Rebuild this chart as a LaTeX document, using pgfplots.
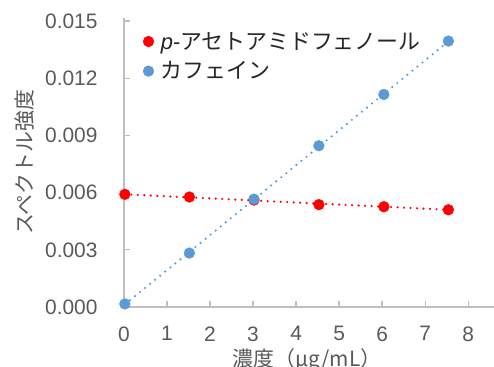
\documentclass[border=0pt]{standalone}
\usepackage{pgfplots}
\pgfplotsset{compat=1.18}
\usepackage{fontspec}
\setmainfont{Liberation Sans}
\newfontfamily\jp{Noto Sans CJK JP}
\definecolor{axgray}{HTML}{BFBFBF}
\definecolor{txtgray}{HTML}{595959}
\definecolor{xred}{HTML}{FF0000}
\definecolor{xblue}{HTML}{5B9BD5}
\begin{document}
\begin{tikzpicture}
\clip (-124bp,-60bp) rectangle (370bp,307bp);
\begin{axis}[
  scale only axis, width=370bp, height=289bp,
  at={(0,0)}, anchor=south west,
  xmin=0, xmax=8.6, ymin=0, ymax=0.01516,
  axis x line*=bottom, axis y line*=left,
  axis line style={axgray, line width=1.3bp},
  tick style={axgray, line width=1.3bp},
  major tick length=6bp, tick align=inside,
  xtick={0,1,2,3,4,5,6,7,8},
  ytick={0,0.003,0.006,0.009,0.012,0.015},
  scaled y ticks=false,
  /pgf/number format/assume math mode=true,
  tick label style={font=\fontsize{21}{24}\selectfont, text=txtgray},
  yticklabel style={xshift=-23bp, /pgf/number format/.cd, fixed, fixed zerofill, precision=3},
  xticklabel style={yshift=-16bp},
  ylabel={\jp スペクトル強度},
  xlabel={\jp 濃度（μg/mL）},
  every axis y label/.style={at={(axis description cs:-0.268,0.5)}, rotate=90, anchor=center,
    font=\fontsize{21}{24}\selectfont, text=txtgray},
  every axis x label/.style={at={(axis description cs:0.495,-0.185)}, anchor=center,
    font=\fontsize{21}{24}\selectfont, text=txtgray},
  legend style={at={(0.043,0.965)}, anchor=north west, draw=none, fill=none,
    font=\fontsize{22}{25}\selectfont, text=black!85, row sep=7bp,
    /tikz/every odd column/.append style={column sep=5bp}},
  legend cell align=left,
  clip=false,
]
\addplot[only marks, mark=*, mark size=5.4bp, color=xred] coordinates {
 (0.02,0.00591) (1.52,0.00577) (3.02,0.00561) (4.53,0.00537) (6.04,0.00526) (7.54,0.00510)};
\addlegendentry{\textit{p}-{\jp アセトアミドフェノール}}
\addplot[only marks, mark=*, mark size=5.4bp, color=xblue] coordinates {
 (0.02,0.00016) (1.52,0.00283) (3.02,0.00566) (4.53,0.00846) (6.04,0.01115) (7.54,0.01395)};
\addlegendentry{\jp カフェイン}
\addplot[forget plot, xred, line width=2.4bp, line cap=round, dash pattern=on 0bp off 6.5bp] coordinates {
 (0.02,0.00591) (7.54,0.00510)};
\addplot[forget plot, xblue, line width=2.4bp, line cap=round, dash pattern=on 0bp off 6.5bp] coordinates {
 (0.02,0.00014) (7.54,0.01393)};
\end{axis}
\end{tikzpicture}
\end{document}
